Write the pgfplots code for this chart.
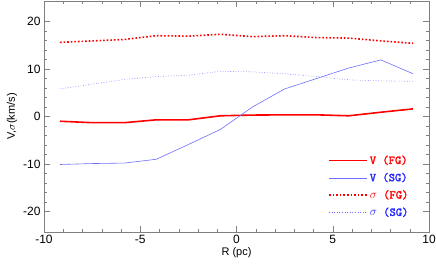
\documentclass[border=0pt]{standalone}
\usepackage{fontspec}
\setmainfont{Liberation Sans}
\newfontfamily\legfont{lmmono10-regular.otf}[FakeBold=2]
\usepackage{pgfplots}
\pgfplotsset{compat=1.18}
\definecolor{vred}{RGB}{255,0,0}
\definecolor{lblue}{RGB}{110,110,255}
\definecolor{tblue}{RGB}{40,40,255}
\begin{document}
\begin{tikzpicture}
\useasboundingbox (-44pt,-39pt) rectangle (392pt,232pt);
\begin{axis}[
  at={(0pt,0pt)}, anchor=south west,
  scale only axis,
  width=385pt, height=231pt,
  xmin=-10, xmax=10, ymin=-24.3, ymax=24.3,
  xtick={-10,-5,0,5,10}, ytick={-20,-10,0,10,20},
  minor x tick num=4, minor y tick num=4,
  tick align=inside,
  major tick length=6pt, minor tick length=3.5pt,
  axis line style={gray},
  every tick/.style={gray},
  tick label style={font=\fontsize{12}{12}\selectfont},
  /pgf/number format/assume math mode=true,
  xlabel={R (pc)}, ylabel={V,$\sigma$(km/s)},
  label style={font=\fontsize{11}{11}\selectfont},
  xlabel style={yshift=3pt},
  ylabel style={yshift=-1pt},
  legend style={draw=none, fill=none, at={(0.96,0.045)}, anchor=south east,
    font=\legfont\fontsize{12}{12}\selectfont, row sep=3.5pt},
  legend cell align=left,
  legend image code/.code={\draw[#1] (0pt,0pt) -- (38pt,0pt);},
]
\addplot[vred, line width=1.6pt] coordinates {
(-9.17,-1.0) (-7.5,-1.3) (-5.83,-1.3) (-4.17,-0.7) (-2.5,-0.7) (-0.83,0.15)
(0.83,0.3) (2.5,0.35) (4.17,0.35) (5.83,0.15) (7.5,0.9) (9.17,1.6)};
\addlegendentry{\textcolor{vred}{V (FG)}}
\addplot[lblue, line width=0.6pt] coordinates {
(-9.17,-10.1) (-7.5,-9.9) (-5.83,-9.8) (-4.17,-9.0) (-2.5,-5.9) (-0.83,-2.7)
(0.83,2.0) (2.5,5.8) (4.17,8.0) (5.83,10.2) (7.5,11.9) (9.17,9.0)};
\addlegendentry{\textcolor{tblue}{V (SG)}}
\addplot[vred, line width=1.6pt, dotted] coordinates {
(-9.17,15.6) (-7.5,15.9) (-5.83,16.2) (-4.17,17.0) (-2.5,16.9) (-0.83,17.3)
(0.83,16.8) (2.5,17.0) (4.17,16.6) (5.83,16.5) (7.5,15.9) (9.17,15.4)};
\addlegendentry{\textcolor{vred}{$\sigma$ (FG)}}
\addplot[lblue, line width=0.6pt, dotted] coordinates {
(-9.17,5.8) (-7.5,6.8) (-5.83,7.8) (-4.17,8.4) (-2.5,8.7) (-0.83,9.5)
(0.83,9.4) (2.5,9.0) (4.17,8.4) (5.83,7.7) (7.5,7.5) (9.17,7.4)};
\addlegendentry{\textcolor{tblue}{$\sigma$ (SG)}}
\end{axis}
\end{tikzpicture}
\end{document}
